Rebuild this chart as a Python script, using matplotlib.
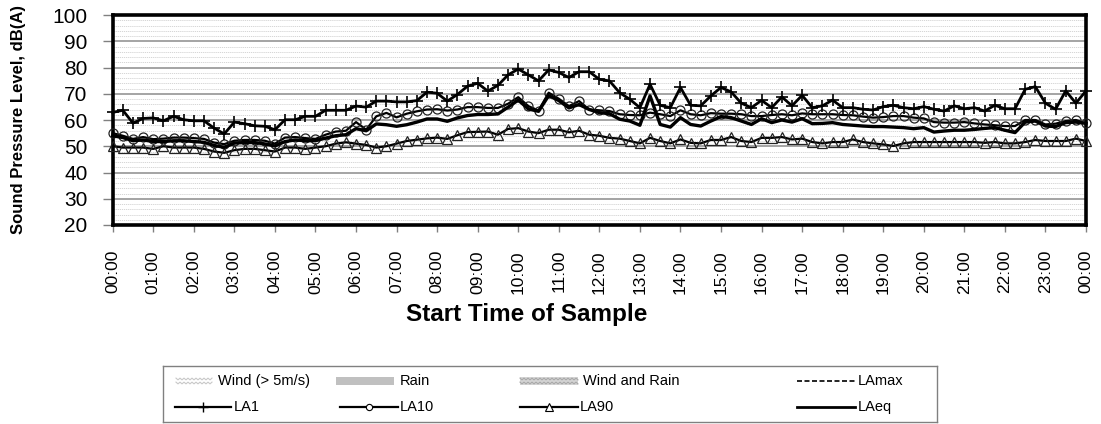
import numpy as np
import matplotlib
matplotlib.use("Agg")
import matplotlib.pyplot as plt
from matplotlib.ticker import MultipleLocator

plt.rcParams['font.family'] = ['Liberation Sans', 'DejaVu Sans']

# 15-minute samples over one day (hours from midnight)
hours = np.arange(97) * 0.25
hour_labels = ["%02d:00" % (h % 24) for h in range(25)]

la1 = [62.9, 63.7, 58.8, 60.6, 60.8, 59.7, 61.4, 60.1, 59.7, 59.7, 56.9, 54.7, 59.2, 58.6, 57.8, 57.6,
       56.3, 60.1, 60.1, 61.4, 61.4, 63.7, 63.7, 63.7, 65.3, 64.9, 67.2, 67.2, 66.9, 66.9, 67.4, 70.6,
       70.2, 67.2, 69.7, 72.9, 74.0, 71.0, 73.2, 77.2, 79.4, 77.2, 74.9, 79.1, 78.1, 76.2, 78.4, 78.4,
       75.5, 74.9, 70.4, 67.9, 64.7, 73.6, 65.6, 64.7, 72.4, 65.6, 65.4, 69.2, 72.4, 70.7, 66.4, 64.7,
       67.5, 64.7, 68.8, 65.4, 69.4, 64.7, 65.4, 67.6, 64.7, 64.7, 64.1, 63.8, 65.1, 65.6, 64.7, 64.3,
       65.1, 64.1, 63.4, 65.4, 64.3, 64.7, 63.4, 65.6, 64.3, 64.3, 71.7, 72.7, 66.4, 64.1, 71.1, 66.4,
       71.1]
la10 = [55.0, 54.0, 52.8, 53.5, 52.7, 52.9, 53.3, 53.3, 53.1, 52.8, 51.4, 50.8, 52.1, 52.4, 52.4, 52.1,
        51.0, 53.3, 53.5, 53.1, 52.8, 54.4, 55.6, 55.9, 59.2, 56.3, 61.4, 62.7, 61.0, 62.4, 63.3, 64.0,
        64.1, 63.6, 64.0, 64.9, 64.9, 64.6, 64.6, 66.2, 68.7, 65.3, 63.6, 70.4, 68.1, 65.3, 67.2, 64.0,
        63.7, 63.4, 62.2, 61.9, 61.8, 62.8, 62.2, 61.5, 63.7, 62.2, 61.8, 62.6, 62.4, 62.4, 62.2, 61.5,
        61.5, 61.9, 62.2, 61.8, 62.5, 62.2, 62.2, 62.2, 61.9, 61.8, 61.3, 60.9, 61.1, 61.5, 61.5, 60.9,
        60.6, 59.2, 59.0, 59.0, 59.2, 58.7, 58.3, 58.0, 57.7, 57.7, 60.0, 60.0, 58.3, 58.6, 59.6, 60.0,
        58.7]
la90 = [50.0, 49.5, 49.5, 49.5, 49.0, 50.0, 49.5, 49.5, 49.5, 49.0, 48.0, 47.5, 48.5, 49.0, 49.0, 48.5,
        48.0, 49.5, 49.5, 49.0, 49.5, 50.0, 51.0, 51.5, 51.0, 50.5, 49.5, 50.0, 51.0, 52.0, 52.5, 53.0,
        53.3, 52.8, 54.2, 55.4, 55.5, 55.6, 54.4, 56.6, 56.9, 55.6, 55.0, 56.3, 56.3, 55.3, 55.9, 54.4,
        54.0, 53.2, 52.9, 52.0, 51.1, 53.2, 52.0, 51.1, 52.6, 51.3, 51.1, 52.4, 52.4, 53.5, 52.0, 51.6,
        53.2, 53.2, 53.5, 52.6, 52.9, 51.6, 51.1, 51.6, 51.6, 52.6, 51.6, 51.1, 50.7, 50.1, 51.1, 51.6,
        51.6, 51.6, 51.6, 51.6, 51.6, 51.6, 51.3, 51.6, 51.1, 51.1, 51.6, 52.4, 52.0, 52.0, 52.0, 52.9,
        52.0]
laeq = [54.0, 53.3, 52.1, 52.4, 51.8, 51.8, 52.1, 52.1, 51.8, 51.5, 50.3, 49.6, 51.2, 51.4, 51.4, 50.9,
        50.1, 51.8, 52.4, 52.1, 52.1, 53.1, 54.0, 54.4, 56.7, 55.9, 58.5, 58.2, 57.6, 58.2, 59.2, 60.4,
        60.4, 59.5, 60.8, 61.7, 62.1, 62.1, 62.3, 64.9, 67.6, 64.2, 63.3, 69.3, 67.4, 64.6, 65.9, 64.0,
        62.8, 62.4, 60.3, 59.6, 58.0, 69.2, 58.3, 57.3, 60.9, 58.3, 57.7, 59.6, 61.3, 60.9, 59.6, 58.3,
        60.5, 59.0, 60.0, 59.2, 60.5, 58.6, 58.7, 59.0, 58.3, 58.0, 57.7, 57.5, 57.5, 57.3, 57.1, 56.7,
        57.1, 55.4, 55.8, 56.1, 56.1, 56.4, 56.8, 57.1, 56.1, 55.2, 59.2, 59.6, 57.7, 57.5, 59.0, 59.2,
        58.7]
# no LAmax samples were logged for this day
lamax = []

W, H = 1101, 424
fig = plt.figure(figsize=(W / 100, H / 100), dpi=100)
ax = fig.add_axes([112.7 / W, 1 - 225 / H, (1086 - 112.7) / W, 210 / H])

ax.plot(hours, la90, color='black', lw=1.6, marker='^', ms=7, mfc='none', mec='#222222', mew=0.9, clip_on=False, zorder=3)
ax.plot(hours, la10, color='black', lw=1.6, marker='o', ms=6.5, mfc='none', mec='#222222', mew=0.9, clip_on=False, zorder=4)
ax.plot(hours, laeq, color='black', lw=2.4, clip_on=False, zorder=5)
ax.plot(hours, la1, color='black', lw=2.0, marker='+', ms=9, mew=1.2, clip_on=False, zorder=6)
ax.plot(hours[:len(lamax)], lamax, color='black', lw=1.2, ls='--')

ax.set_xlim(0, 24)
ax.set_ylim(20, 100)
ax.set_xticks(range(25))
ax.set_xticklabels(hour_labels, rotation=90, fontsize=12.5)
ax.yaxis.set_major_locator(MultipleLocator(10))
ax.yaxis.set_minor_locator(MultipleLocator(2))
ax.tick_params(axis='y', which='major', labelsize=15, length=7, width=1, color='#808080', pad=11)
ax.tick_params(axis='y', which='minor', length=0)
ax.tick_params(axis='x', length=5, width=1, color='#808080', pad=13)

ax.grid(which='major', axis='y', color='#8c8c8c', lw=1.1)
ax.grid(which='minor', axis='y', color='#d0d0d0', lw=0.6, ls=(0, (1.5, 1)))
ax.set_axisbelow(True)
for s in ax.spines.values():
    s.set_linewidth(2.6)
    s.set_color('black')

ax.set_ylabel("Sound Pressure Level, dB(A)", fontsize=12, fontweight='bold')
ax.yaxis.set_label_coords((18.5 - 112.7) / 973.3, 0.5)
ax.yaxis.label.set_va('center')
ax.set_xlabel("Start Time of Sample", fontsize=17.5, fontweight='bold')
ax.xaxis.set_label_coords((527 - 112.7) / 973.3, (225 - 314) / 210)
ax.xaxis.label.set_va('center')

# legend drawn in its own box, coordinates in pixels
lax = fig.add_axes([163 / W, (H - 422) / H, 774 / W, 56 / H])
lax.set_xlim(0, 774)
lax.set_ylim(56, 0)
lax.set_xticks([])
lax.set_yticks([])
for s in lax.spines.values():
    s.set_color('#808080')
    s.set_linewidth(1)


def zigzag(x0, x1, y, color, lw, rows=2, step=4.0, amp=1.8):
    for r in range(rows):
        yc = y - 2 + r * 4
        xs = np.arange(x0, x1 + 0.01, step / 2)
        ys = yc + np.where(np.arange(len(xs)) % 2 == 0, -amp / 2, amp / 2)
        lax.plot(xs, ys, color=color, lw=lw, solid_joinstyle='miter')


r1, r2 = 15, 41
fs = 10.5
zigzag(13, 49, r1, '#c8c8c8', 0.8)
lax.text(55, r1, "Wind (> 5m/s)", fontsize=fs, va='center')
lax.add_patch(plt.Rectangle((173, r1 - 4), 58, 8, color='#c0c0c0', lw=0))
lax.text(237, r1, "Rain", fontsize=fs, va='center')
lax.add_patch(plt.Rectangle((357, r1 - 4), 58, 8, color='#d4d4d4', lw=0))
zigzag(357, 415, r1, '#a8a8a8', 0.8)
lax.text(420, r1, "Wind and Rain", fontsize=fs, va='center')
lax.plot([634, 692], [r1, r1], color='black', lw=1.2, ls=(0, (3, 1.5)))
lax.text(695, r1, "LAmax", fontsize=fs, va='center')

lax.plot([12, 68], [r2, r2], color='black', lw=1.6)
lax.plot([40], [r2], marker='+', color='black', ms=7, mew=1)
lax.text(71, r2, "LA1", fontsize=fs, va='center')
lax.plot([177, 235], [r2, r2], color='black', lw=1.6)
lax.plot([206], [r2], marker='o', color='black', ms=4.5, mfc='white', mew=0.8)
lax.text(237, r2, "LA10", fontsize=fs, va='center')
lax.plot([357, 415], [r2, r2], color='black', lw=1.6)
lax.plot([386], [r2], marker='^', color='black', ms=5.5, mfc='white', mew=0.8)
lax.text(417, r2, "LA90", fontsize=fs, va='center')
lax.plot([634, 692], [r2, r2], color='black', lw=2.0)
lax.text(695, r2, "LAeq", fontsize=fs, va='center')

fig.savefig("out.png", dpi=100)
